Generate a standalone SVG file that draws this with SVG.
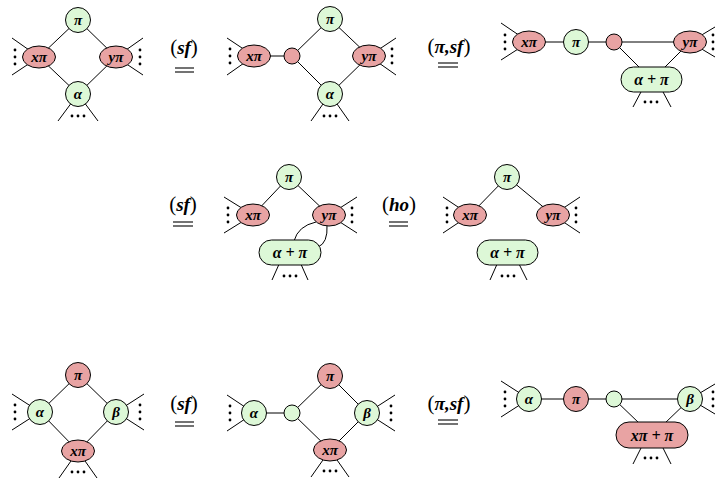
<svg xmlns="http://www.w3.org/2000/svg" width="715" height="481" viewBox="0 0 715 481">
<style>
.e{stroke:#000;stroke-width:1;fill:none}
.r{fill:#e8a3a3;stroke:#000;stroke-width:1}
.g{fill:#ddf8d7;stroke:#000;stroke-width:1}
.d{fill:#000}
.t{font-family:"Liberation Serif",serif;font-weight:bold;font-style:italic;font-size:15px;text-anchor:middle;dominant-baseline:central}
.w{font-size:16px}
.lbl{font-family:"Liberation Serif",serif;font-size:21px;text-anchor:middle}
.bi{font-weight:bold;font-style:italic;font-size:19px}
.eq{stroke:#000;stroke-width:1.1}
</style>
<g id="connectors">
<path class="e" d="M78,20L39,57M78,20L116,57M39,57L78,94M116,57L78,94M39,57L12,38M39,57L12,75M116,57L143,38M116,57L143,75M78,94L58,121M78,94L98,121"/>
<path class="e" d="M254,56L292,56M292,56L330,19M292,56L330,94M330,19L369,56M330,94L369,56M254,56L227,38M254,56L227,75M369,56L396,38M369,56L396,75M330,94L311,121M330,94L349,121"/>
<path class="e" d="M529,42L614,42M614,42L690,42M614,42L640,68M690,42L664,68M529,42L501,23M529,42L501,60M690,42L720,24M690,42L720,60M642,90L633,107M662,90L671,107"/>
<path class="e" d="M289,177L253,215M289,177L329,215M253,215L224,197M253,215L224,233M329,215L357,197M329,215L357,233M280,262L272,280M300,262L308,280"/>
<path class="e" d="M316,222Q298,226 294,241M327,225Q328,243 318,247"/>
<path class="e" d="M507,177L470,215M507,177L553,215M470,215L443,197M470,215L443,233M553,215L580,197M553,215L580,233M498,262L490,280M518,262L527,280"/>
<path class="e" d="M78,375L40,412M78,375L116,412M40,412L78,451M116,412L78,451M40,412L12,394M40,412L12,430M116,412L144,394M116,412L144,430M78,451L59,478M78,451L97,478"/>
<path class="e" d="M254,413L292,413M292,413L330,376M292,413L330,450M330,376L367,413M330,450L367,413M254,413L227,395M254,413L227,431M367,413L395,395M367,413L395,431M330,450L311,477M330,450L349,477"/>
<path class="e" d="M529,399L614,399M614,399L690,399M614,399L640,424M690,399L664,424M529,399L501,381M529,399L501,417M690,399L720,381M690,399L720,417M642,446L633,464M662,446L671,464"/>
</g>
<g id="dots">
<circle class="d" cx="15" cy="50" r="1.4"/><circle class="d" cx="15" cy="57" r="1.4"/><circle class="d" cx="15" cy="64" r="1.4"/>
<circle class="d" cx="140" cy="50" r="1.4"/><circle class="d" cx="140" cy="57" r="1.4"/><circle class="d" cx="140" cy="64" r="1.4"/>
<circle class="d" cx="72" cy="116" r="1.4"/><circle class="d" cx="78" cy="116" r="1.4"/><circle class="d" cx="84" cy="116" r="1.4"/>
<circle class="d" cx="230" cy="49" r="1.4"/><circle class="d" cx="230" cy="56" r="1.4"/><circle class="d" cx="230" cy="63" r="1.4"/>
<circle class="d" cx="392" cy="49" r="1.4"/><circle class="d" cx="392" cy="56" r="1.4"/><circle class="d" cx="392" cy="63" r="1.4"/>
<circle class="d" cx="324" cy="116" r="1.4"/><circle class="d" cx="330" cy="116" r="1.4"/><circle class="d" cx="336" cy="116" r="1.4"/>
<circle class="d" cx="505" cy="35" r="1.4"/><circle class="d" cx="505" cy="42" r="1.4"/><circle class="d" cx="505" cy="49" r="1.4"/>
<circle class="d" cx="713" cy="35" r="1.4"/><circle class="d" cx="713" cy="42" r="1.4"/><circle class="d" cx="713" cy="49" r="1.4"/>
<circle class="d" cx="645" cy="102" r="1.4"/><circle class="d" cx="651" cy="102" r="1.4"/><circle class="d" cx="657" cy="102" r="1.4"/>
<circle class="d" cx="228" cy="208" r="1.4"/><circle class="d" cx="228" cy="215" r="1.4"/><circle class="d" cx="228" cy="222" r="1.4"/>
<circle class="d" cx="352" cy="208" r="1.4"/><circle class="d" cx="352" cy="215" r="1.4"/><circle class="d" cx="352" cy="222" r="1.4"/>
<circle class="d" cx="284" cy="276" r="1.4"/><circle class="d" cx="290" cy="276" r="1.4"/><circle class="d" cx="296" cy="276" r="1.4"/>
<circle class="d" cx="447" cy="208" r="1.4"/><circle class="d" cx="447" cy="215" r="1.4"/><circle class="d" cx="447" cy="222" r="1.4"/>
<circle class="d" cx="576" cy="208" r="1.4"/><circle class="d" cx="576" cy="215" r="1.4"/><circle class="d" cx="576" cy="222" r="1.4"/>
<circle class="d" cx="502" cy="276" r="1.4"/><circle class="d" cx="508" cy="276" r="1.4"/><circle class="d" cx="514" cy="276" r="1.4"/>
<circle class="d" cx="15" cy="405" r="1.4"/><circle class="d" cx="15" cy="412" r="1.4"/><circle class="d" cx="15" cy="419" r="1.4"/>
<circle class="d" cx="140" cy="405" r="1.4"/><circle class="d" cx="140" cy="412" r="1.4"/><circle class="d" cx="140" cy="419" r="1.4"/>
<circle class="d" cx="72" cy="472" r="1.4"/><circle class="d" cx="78" cy="472" r="1.4"/><circle class="d" cx="84" cy="472" r="1.4"/>
<circle class="d" cx="230" cy="406" r="1.4"/><circle class="d" cx="230" cy="413" r="1.4"/><circle class="d" cx="230" cy="420" r="1.4"/>
<circle class="d" cx="391" cy="406" r="1.4"/><circle class="d" cx="391" cy="413" r="1.4"/><circle class="d" cx="391" cy="420" r="1.4"/>
<circle class="d" cx="324" cy="471" r="1.4"/><circle class="d" cx="330" cy="471" r="1.4"/><circle class="d" cx="336" cy="471" r="1.4"/>
<circle class="d" cx="505" cy="392" r="1.4"/><circle class="d" cx="505" cy="399" r="1.4"/><circle class="d" cx="505" cy="406" r="1.4"/>
<circle class="d" cx="713" cy="392" r="1.4"/><circle class="d" cx="713" cy="399" r="1.4"/><circle class="d" cx="713" cy="406" r="1.4"/>
<circle class="d" cx="645" cy="458" r="1.4"/><circle class="d" cx="651" cy="458" r="1.4"/><circle class="d" cx="657" cy="458" r="1.4"/>
</g>
<g id="r1a-pi"><circle class="g" cx="78" cy="20" r="12.5"/><text class="t" x="78" y="20">π</text></g>
<g id="r1a-xpi"><ellipse class="r" cx="39" cy="57" rx="16.5" ry="11"/><text class="t" x="39" y="57">xπ</text></g>
<g id="r1a-ypi"><ellipse class="r" cx="116" cy="57" rx="16.5" ry="11"/><text class="t" x="116" y="57">yπ</text></g>
<g id="r1a-alpha"><circle class="g" cx="78" cy="94" r="12.5"/><text class="t" x="78" y="94">α</text></g>
<g id="r1-eq1"><text class="lbl" x="184" y="54">(<tspan class="bi">sf</tspan>)</text><line class="eq" x1="175" y1="68" x2="194" y2="68"/><line class="eq" x1="175" y1="72" x2="194" y2="72"/></g>
<g id="r1b-xpi"><ellipse class="r" cx="254" cy="56" rx="16.5" ry="11"/><text class="t" x="254" y="56">xπ</text></g>
<g id="r1b-s"><circle class="r" cx="292" cy="56" r="8"/></g>
<g id="r1b-pi"><circle class="g" cx="330" cy="19" r="12.5"/><text class="t" x="330" y="19">π</text></g>
<g id="r1b-ypi"><ellipse class="r" cx="369" cy="56" rx="16.5" ry="11"/><text class="t" x="369" y="56">yπ</text></g>
<g id="r1b-alpha"><circle class="g" cx="330" cy="94" r="12.5"/><text class="t" x="330" y="94">α</text></g>
<g id="r1-eq2"><text class="lbl" x="449" y="53">(<tspan class="bi">π,sf</tspan>)</text><line class="eq" x1="438" y1="63" x2="458" y2="63"/><line class="eq" x1="438" y1="67" x2="458" y2="67"/></g>
<g id="r1c-xpi"><ellipse class="r" cx="529" cy="42" rx="16.5" ry="11"/><text class="t" x="529" y="42">xπ</text></g>
<g id="r1c-pi"><circle class="g" cx="576" cy="42" r="12.5"/><text class="t" x="576" y="42">π</text></g>
<g id="r1c-s"><circle class="r" cx="614" cy="42" r="8"/></g>
<g id="r1c-ypi"><ellipse class="r" cx="690" cy="42" rx="16.5" ry="11"/><text class="t" x="690" y="42">yπ</text></g>
<g id="r1c-ap"><rect class="g" x="621" y="67" width="61" height="25" rx="12.5"/><text class="t w" x="651.5" y="79.5">α + π</text></g>
<g id="r2-eq1"><text class="lbl" x="183" y="211">(<tspan class="bi">sf</tspan>)</text><line class="eq" x1="173" y1="222" x2="193" y2="222"/><line class="eq" x1="173" y1="226" x2="193" y2="226"/></g>
<g id="r2a-pi"><circle class="g" cx="289" cy="177" r="12.5"/><text class="t" x="289" y="177">π</text></g>
<g id="r2a-xpi"><ellipse class="r" cx="253" cy="215" rx="16.5" ry="11"/><text class="t" x="253" y="215">xπ</text></g>
<g id="r2a-ypi"><ellipse class="r" cx="329" cy="215" rx="16.5" ry="11"/><text class="t" x="329" y="215">yπ</text></g>
<g id="r2a-ap"><rect class="g" x="259" y="240" width="62" height="25" rx="12.5"/><text class="t w" x="290" y="252.5">α + π</text></g>
<g id="r2-eq2"><text class="lbl" x="399" y="211">(<tspan class="bi">ho</tspan>)</text><line class="eq" x1="389" y1="222" x2="408" y2="222"/><line class="eq" x1="389" y1="226" x2="408" y2="226"/></g>
<g id="r2b-pi"><circle class="g" cx="507" cy="177" r="12.5"/><text class="t" x="507" y="177">π</text></g>
<g id="r2b-xpi"><ellipse class="r" cx="470" cy="215" rx="16.5" ry="11"/><text class="t" x="470" y="215">xπ</text></g>
<g id="r2b-ypi"><ellipse class="r" cx="553" cy="215" rx="16.5" ry="11"/><text class="t" x="553" y="215">yπ</text></g>
<g id="r2b-ap"><rect class="g" x="477" y="240" width="61" height="25" rx="12.5"/><text class="t w" x="507.5" y="252.5">α + π</text></g>
<g id="r3a-pi"><circle class="r" cx="78" cy="375" r="12.5"/><text class="t" x="78" y="375">π</text></g>
<g id="r3a-alpha"><circle class="g" cx="40" cy="412" r="12.5"/><text class="t" x="40" y="412">α</text></g>
<g id="r3a-beta"><circle class="g" cx="116" cy="412" r="12.5"/><text class="t" x="116" y="412">β</text></g>
<g id="r3a-xpi"><ellipse class="r" cx="78" cy="451" rx="16.5" ry="11"/><text class="t" x="78" y="451">xπ</text></g>
<g id="r3-eq1"><text class="lbl" x="184" y="410">(<tspan class="bi">sf</tspan>)</text><line class="eq" x1="175" y1="422" x2="194" y2="422"/><line class="eq" x1="175" y1="426" x2="194" y2="426"/></g>
<g id="r3b-alpha"><circle class="g" cx="254" cy="413" r="12.5"/><text class="t" x="254" y="413">α</text></g>
<g id="r3b-s"><circle class="g" cx="292" cy="413" r="8"/></g>
<g id="r3b-pi"><circle class="r" cx="330" cy="376" r="12.5"/><text class="t" x="330" y="376">π</text></g>
<g id="r3b-beta"><circle class="g" cx="367" cy="413" r="12.5"/><text class="t" x="367" y="413">β</text></g>
<g id="r3b-xpi"><ellipse class="r" cx="330" cy="450" rx="16.5" ry="11"/><text class="t" x="330" y="450">xπ</text></g>
<g id="r3-eq2"><text class="lbl" x="449" y="410">(<tspan class="bi">π,sf</tspan>)</text><line class="eq" x1="438" y1="420" x2="458" y2="420"/><line class="eq" x1="438" y1="424" x2="458" y2="424"/></g>
<g id="r3c-alpha"><circle class="g" cx="529" cy="399" r="12.5"/><text class="t" x="529" y="399">α</text></g>
<g id="r3c-pi"><circle class="r" cx="576" cy="399" r="12.5"/><text class="t" x="576" y="399">π</text></g>
<g id="r3c-s"><circle class="g" cx="614" cy="399" r="8"/></g>
<g id="r3c-beta"><circle class="g" cx="690" cy="399" r="12.5"/><text class="t" x="690" y="399">β</text></g>
<g id="r3c-xpp"><rect class="r" x="616" y="422" width="72" height="26" rx="13"/><text class="t w" x="652" y="435">xπ + π</text></g>
</svg>
